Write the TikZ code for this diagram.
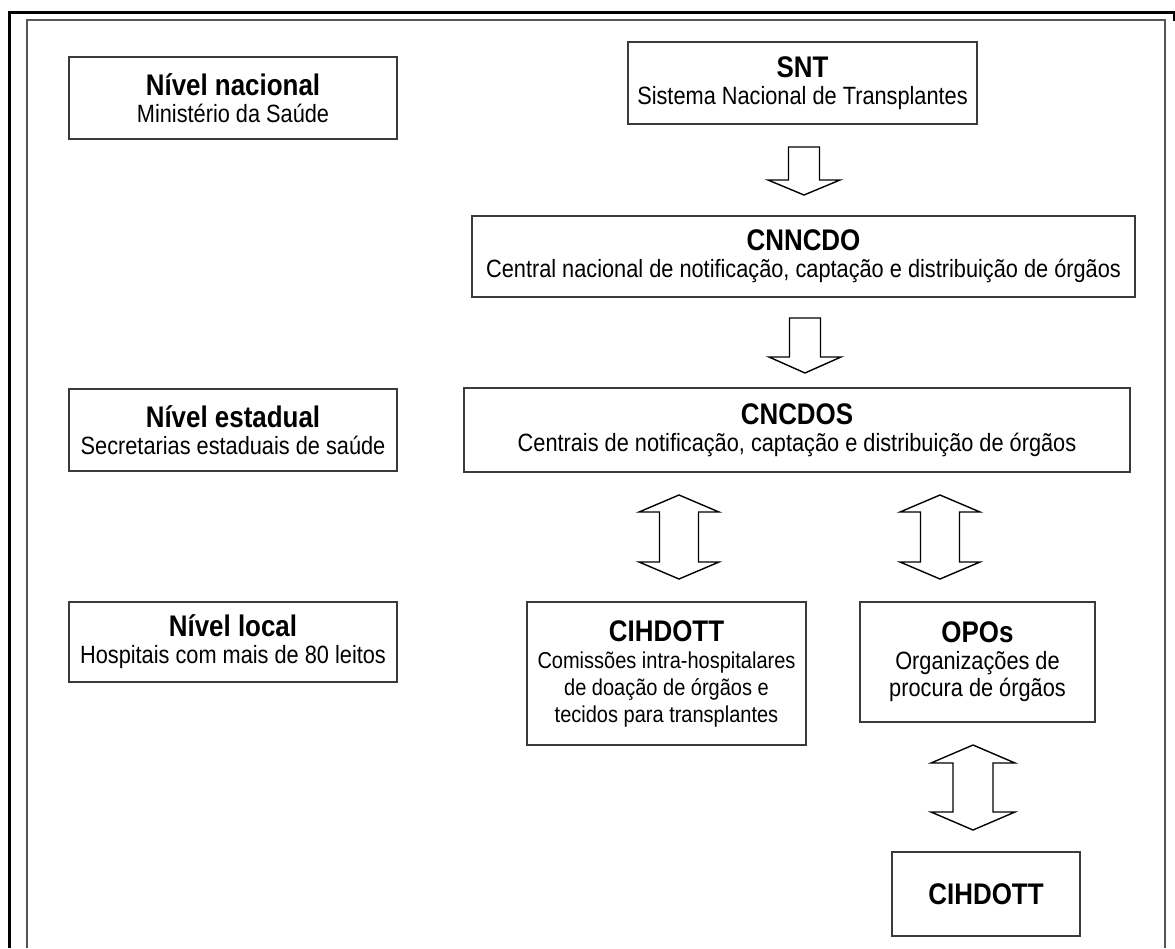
\documentclass[tikz,border=0pt]{standalone}
\usepackage{fontspec}
\setmainfont{Liberation Sans}[FakeStretch=0.87]
\definecolor{boxgray}{HTML}{3A3A3A}
\definecolor{framegray}{HTML}{555555}
\newcommand{\ttl}[1]{{\fontsize{29.8}{27}\selectfont\bfseries #1}}
\newcommand{\downblock}[6]{% cx, ytop, ybase, ytip, half shaft, half head
  \draw[blockarrow] (#1-#5,#2) -- (#1+#5,#2) -- (#1+#5,#3) -- (#1+#6,#3) -- (#1,#4)
    -- (#1-#6,#3) -- (#1-#5,#3) -- cycle;}
\newcommand{\dblblock}[7]{% cx, ytip1, ybase1, ybase2, ytip2, half shaft, half head
  \draw[blockarrow] (#1,#2) -- (#1+#7,#3) -- (#1+#6,#3) -- (#1+#6,#4) -- (#1+#7,#4)
    -- (#1,#5) -- (#1-#7,#4) -- (#1-#6,#4) -- (#1-#6,#3) -- (#1-#7,#3) -- cycle;}
\begin{document}
\begin{tikzpicture}[x=1pt,y=-1pt,
  box/.style={draw=boxgray, line width=1.6pt, fill=white, align=center,
    inner sep=0pt, font=\fontsize{25}{27}\selectfont},
  smallbox/.style={box, font=\fontsize{23}{27}\selectfont},
  blockarrow/.style={draw=black, line width=1.4pt, fill=white, line join=miter}]
\useasboundingbox (0,0) rectangle (1175,948);
\fill[white] (0,0) rectangle (1175,948);
% frames
\draw[black, line width=3pt] (9,948) -- (9,12) -- (1174,12) -- (1174,21);
\draw[framegray, line width=2pt] (27,948) -- (27,20) -- (1165,20) -- (1165,948);
% left level boxes
\node[box, minimum width=328pt, minimum height=82pt] (nac) at (233,98)
  {\ttl{Nível nacional}\\Ministério da Saúde};
\node[box, minimum width=328pt, minimum height=82pt] (est) at (233,430)
  {\ttl{Nível estadual}\\Secretarias estaduais de saúde};
\node[box, minimum width=328pt, minimum height=80pt] (loc) at (233,642)
  {\ttl{Nível local}\\Hospitais com mais de 80 leitos};
% right organisation boxes
\node[box, minimum width=349pt, minimum height=82pt] (snt) at (802.5,83)
  {\ttl{SNT}\\Sistema Nacional de Transplantes};
\node[box, minimum width=663pt, minimum height=81pt] (cnncdo) at (803.5,256.5)
  {\ttl{CNNCDO}\\Central nacional de notificação, captação e distribuição de órgãos};
\node[box, minimum width=666pt, minimum height=84pt] (cncdos) at (797,430)
  {\ttl{CNCDOS}\\Centrais de notificação, captação e distribuição de órgãos};
\node[smallbox, minimum width=279pt, minimum height=143pt] (cih) at (666.5,673.5)
  {\ttl{CIHDOTT}\\Comissões intra-hospitalares\\de doação de órgãos e\\tecidos para transplantes};
\node[box, minimum width=235pt, minimum height=120pt] (opo) at (977.5,662)
  {\ttl{OPOs}\\Organizações de\\procura de órgãos};
\node[box, minimum width=188pt, minimum height=84pt] (cih2) at (986,894)
  {\ttl{CIHDOTT}};
% block arrows
\downblock{804}{147}{180}{195}{15.5}{36}
\downblock{805}{318}{357}{373}{15.5}{36}
\dblblock{679}{495}{512}{562}{579}{19.5}{40}
\dblblock{940}{495}{512}{562}{579}{19.5}{40}
\dblblock{973}{745}{763}{812}{830}{20}{42}
\end{tikzpicture}
\end{document}
